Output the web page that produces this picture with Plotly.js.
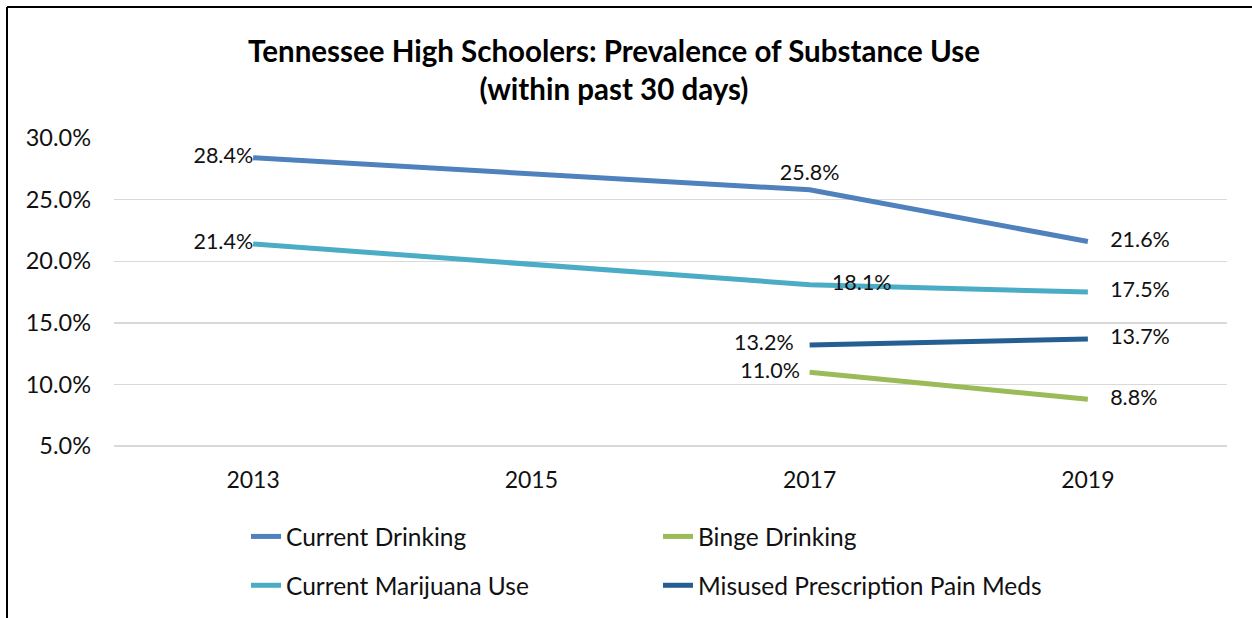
<!DOCTYPE html>
<html><head><meta charset="utf-8">
<script src="https://cdn.plot.ly/plotly-3.0.1.min.js"></script>
<style>html,body{margin:0;padding:0;background:#fff}#chart{width:1252px;height:618px}</style>
</head><body><div id="chart"></div>
<script>
const years = ['2013', '2015', '2017', '2019'];
const currentDrinking = [0.284, null, 0.258, 0.216];
const marijuana = [0.214, null, 0.181, 0.175];
const painMeds = [null, null, 0.132, 0.137];
const binge = [null, null, 0.110, 0.088];
const yTicks = [0.05, 0.10, 0.15, 0.20, 0.25, 0.30];
const titleText = 'Tennessee High Schoolers: Prevalence of Substance Use<br>(within past 30 days)';

const W = 1252, H = 618, M = {l: 114, r: 25, t: 138, b: 170, autoexpand: false};
const PW = W - M.l - M.r, PH = H - M.t - M.b;
const FONT = 'Lato, "Open Sans", sans-serif';
const px2x = p => (p - M.l) / PW;
const px2y = p => (M.t + PH - p) / PH;

function series(name, y, color, pos, sizes, legend, group) {
  return {
    type: 'scatter', mode: 'lines+markers+text', x: years, y: y, name: name,
    connectgaps: true, line: {color: color, width: 5},
    marker: {size: sizes, color: 'rgba(0,0,0,0)', line: {width: 0}},
    texttemplate: '%{y:.1%}', textposition: pos,
    textfont: {family: FONT, size: 21.5, color: '#111'},
    legend: legend, legendgroup: group, cliponaxis: false,
    hovertemplate: '%{x}: %{y:.1%}<extra>' + name + '</extra>'
  };
}

const data = [
  series('Current Drinking', currentDrinking, '#4F81BD',
    ['middle left', 'middle left', 'top center', 'middle right'], [0, 0, 6, 34], 'legend', 'a'),
  series('Current Marijuana Use', marijuana, '#4BACC6',
    ['middle left', 'middle left', 'middle right', 'middle right'], [0, 0, 34, 34], 'legend', 'b'),
  series('Binge Drinking', binge, '#9BBB59',
    ['middle left', 'middle left', 'middle left', 'middle right'], [0, 0, 14, 34], 'legend2', 'c'),
  series('Misused Prescription Pain Meds', painMeds, '#255E91',
    ['middle left', 'middle left', 'middle left', 'middle right'], [0, 0, 24, 34], 'legend2', 'd')
];

const legendCommon = {
  orientation: 'v', yanchor: 'top', xanchor: 'left', tracegroupgap: 14,
  font: {family: FONT, size: 24.5, color: '#111'}, bgcolor: 'rgba(0,0,0,0)', borderwidth: 0
};

const layout = {
  width: W, height: H, margin: M,
  paper_bgcolor: '#fff', plot_bgcolor: '#fff',
  font: {family: FONT, color: '#111'},
  title: {
    text: titleText, font: {family: FONT, size: 29.5, weight: 700, color: '#000'},
    x: 614 / W, xanchor: 'center', xref: 'container',
    y: 1 - 62 / H, yanchor: 'top', yref: 'container'
  },
  xaxis: {
    type: 'category', range: [-0.5, 3.5], showgrid: false, zeroline: false, showline: false,
    ticks: '', tickfont: {family: FONT, size: 23, color: '#111'}, ticklabelstandoff: 16, fixedrange: true
  },
  yaxis: {
    range: [0.0485, 0.30], tickvals: yTicks, tickformat: '.1%', showgrid: true,
    gridcolor: '#d9d9d9', gridwidth: 1.5, zeroline: false, showline: false, ticks: '',
    tickfont: {family: FONT, size: 23.5, color: '#111'}, ticklabelstandoff: 22, fixedrange: true
  },
  showlegend: true,
  legend: Object.assign({}, legendCommon, {x: px2x(246), y: px2y(514)}),
  legend2: Object.assign({}, legendCommon, {x: px2x(658), y: px2y(514)}),
  shapes: [
    {type: 'line', xref: 'paper', yref: 'paper', x0: px2x(7), x1: px2x(7), y0: px2y(H + 5), y1: px2y(7),
     line: {color: '#000', width: 2}},
    {type: 'line', xref: 'paper', yref: 'paper', x0: px2x(7), x1: px2x(W + 5), y0: px2y(7), y1: px2y(7),
     line: {color: '#000', width: 2}}
  ]
};

Plotly.newPlot('chart', data, layout, {displayModeBar: false, staticPlot: true});
</script>
</body></html>
